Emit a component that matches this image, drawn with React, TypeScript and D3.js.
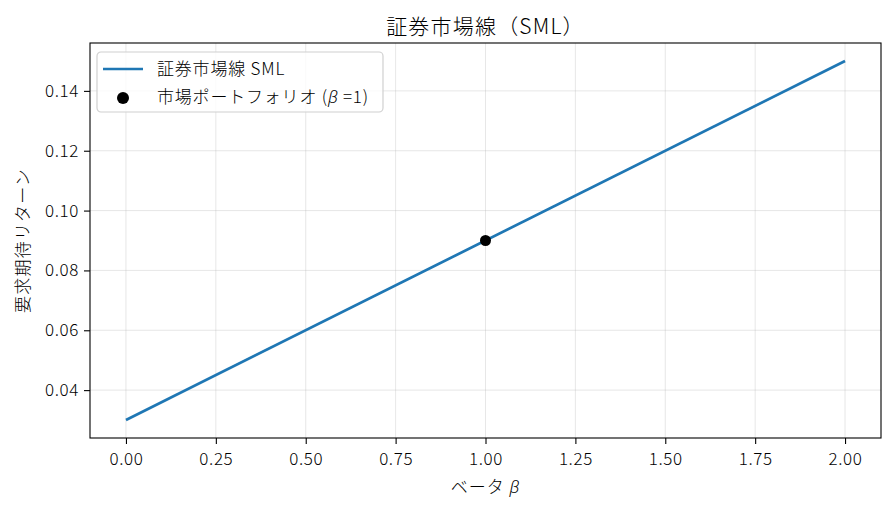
import React, { useEffect, useRef } from 'react';
import * as d3 from 'd3';

// SML: E[R] = rf + beta * (E[Rm] - rf)
const betaPoints = [0, 2];
const returnPoints = [0.03, 0.15];
const marketBeta = [1.0];
const marketReturn = [0.09];
const xTicks = [0, 0.25, 0.5, 0.75, 1.0, 1.25, 1.5, 1.75, 2.0];
const yTicks = [0.04, 0.06, 0.08, 0.1, 0.12, 0.14];

const FONT = '"Noto Sans CJK JP", "Noto Sans", sans-serif';
const MATH = '"Noto Sans", "DejaVu Sans", sans-serif';
const W = 894;
const H = 507;
const margin = { top: 43, right: 13, bottom: 69, left: 90 };

const drawChart = (svgEl: SVGSVGElement) => {
    const svg = d3.select(svgEl);
    svg.selectAll('*').remove();

    const width = W - margin.left - margin.right;
    const height = H - margin.top - margin.bottom;

    const x = d3.scaleLinear().domain([-0.1, 2.1]).range([0, width]);
    const y = d3.scaleLinear().domain([0.024, 0.156]).range([height, 0]);

    svg.append('rect').attr('width', W).attr('height', H).attr('fill', '#fff');

    const g = svg.append('g').attr('transform', `translate(${margin.left},${margin.top})`);

    // grid
    g.selectAll('.gx').data(xTicks).enter().append('line')
        .attr('x1', d => x(d)).attr('x2', d => x(d))
        .attr('y1', 0).attr('y2', height)
        .attr('stroke', '#b0b0b0').attr('stroke-opacity', 0.3).attr('stroke-width', 1);
    g.selectAll('.gy').data(yTicks).enter().append('line')
        .attr('y1', d => y(d)).attr('y2', d => y(d))
        .attr('x1', 0).attr('x2', width)
        .attr('stroke', '#b0b0b0').attr('stroke-opacity', 0.3).attr('stroke-width', 1);

    // SML line
    const line = d3.line<number>()
        .x((_d, i) => x(betaPoints[i]))
        .y(d => y(d));
    g.append('path')
        .attr('d', line(returnPoints))
        .attr('fill', 'none')
        .attr('stroke', '#1f77b4')
        .attr('stroke-width', 2.7);

    // market portfolio
    g.selectAll('.mkt').data(marketReturn).enter().append('circle')
        .attr('cx', (_d, i) => x(marketBeta[i]))
        .attr('cy', d => y(d))
        .attr('r', 5.5)
        .attr('fill', '#000');

    // axes
    const xAxis = g.append('g').attr('transform', `translate(0,${height})`)
        .call(d3.axisBottom(x).tickValues(xTicks).tickFormat(d3.format('.2f')).tickSizeOuter(0).tickSize(6).tickPadding(6));
    const yAxis = g.append('g')
        .call(d3.axisLeft(y).tickValues(yTicks).tickFormat(d3.format('.2f')).tickSizeOuter(0).tickSize(6).tickPadding(5));
    [xAxis, yAxis].forEach(a => {
        a.select('.domain').remove();
        a.selectAll('line').attr('stroke', '#000').attr('stroke-width', 1.1);
        a.selectAll('text')
            .style('font-family', FONT).style('font-size', '17px').style('font-weight', 300)
            .style('letter-spacing', '0.6px')
            .attr('fill', '#000');
    });
    xAxis.selectAll('text').attr('dy', '0.9em');

    // frame
    g.append('rect')
        .attr('width', width).attr('height', height)
        .attr('fill', 'none').attr('stroke', '#000').attr('stroke-width', 1.1);

    // title & labels
    svg.append('text')
        .attr('x', margin.left + width / 2).attr('y', 34)
        .attr('text-anchor', 'middle')
        .style('font-family', FONT).style('font-size', '21px').style('font-weight', 300)
        .style('letter-spacing', '1.2px')
        .text('証券市場線（SML）');

    const xl = svg.append('text')
        .attr('x', margin.left + width / 2).attr('y', 493)
        .attr('text-anchor', 'middle')
        .style('font-family', FONT).style('font-size', '17px').style('font-weight', 300)
        .style('letter-spacing', '1px');
    xl.append('tspan').text('ベータ  ');
    xl.append('tspan')
        .style('font-style', 'italic').style('font-weight', 300).style('font-family', MATH)
        .text('β');

    svg.append('text')
        .attr('transform', `translate(${29},${margin.top + height / 2}) rotate(-90)`)
        .attr('text-anchor', 'middle')
        .style('font-family', FONT).style('font-size', '17px').style('font-weight', 300)
        .style('letter-spacing', '1.2px')
        .text('要求期待リターン');

    // legend
    const lg = svg.append('g').attr('transform', 'translate(97,52)');
    lg.append('rect')
        .attr('width', 286).attr('height', 60).attr('rx', 4)
        .attr('fill', '#fff').attr('fill-opacity', 0.8)
        .attr('stroke', '#d0d0d0').attr('stroke-width', 1.2);
    lg.append('line')
        .attr('x1', 6).attr('x2', 46).attr('y1', 17).attr('y2', 17)
        .attr('stroke', '#1f77b4').attr('stroke-width', 2.7);
    lg.append('circle').attr('cx', 26).attr('cy', 46).attr('r', 6).attr('fill', '#000');

    const t1 = lg.append('text')
        .attr('x', 60).attr('y', 17).attr('dy', '0.35em')
        .style('font-family', FONT).style('font-size', '17px').style('font-weight', 300)
        .style('letter-spacing', '0.8px');
    t1.text('証券市場線 SML');

    const t2 = lg.append('text')
        .attr('x', 60).attr('y', 45).attr('dy', '0.35em')
        .style('font-family', FONT).style('font-size', '17px').style('font-weight', 300)
        .style('letter-spacing', '0.8px');
    t2.append('tspan').text('市場ポートフォリオ (');
    t2.append('tspan')
        .style('font-style', 'italic').style('font-weight', 300).style('font-family', MATH)
        .text('β');
    t2.append('tspan').text(' =1)');
};

const App: React.FC = () => {
    const ref = useRef<SVGSVGElement | null>(null);
    useEffect(() => {
        if (ref.current) drawChart(ref.current);
    }, []);
    return <svg ref={ref} width={W} height={H} style={{ display: 'block', margin: -8 }} />;
};

export default App;
